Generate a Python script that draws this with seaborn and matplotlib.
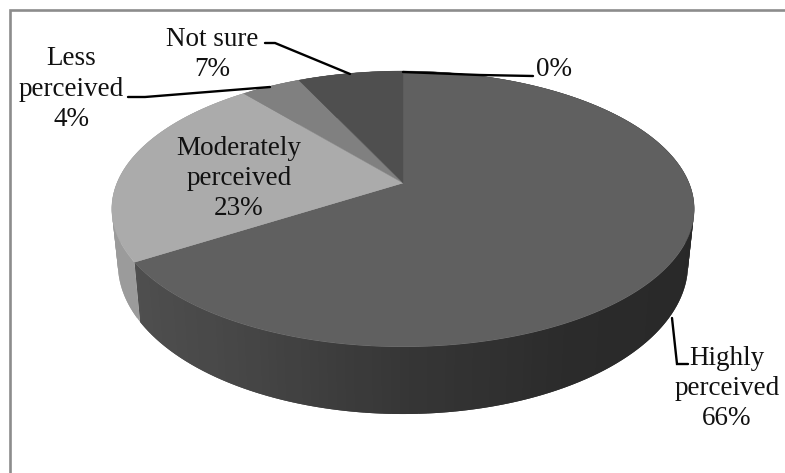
import numpy as np
import matplotlib
matplotlib.use("Agg")
import matplotlib.pyplot as plt
from matplotlib.patches import Polygon
import seaborn as sns

# Survey shares, in drawing order clockwise from twelve o'clock
categories = ["Highly\nperceived", "Moderately\nperceived", "Less\nperceived", "Not sure", ""]
shares = [66, 23, 4, 7, 0]
percent_labels = ["66%", "23%", "4%", "7%", "0%"]
top_colors = ["#606060", "#ababab", "#808080", "#4f4f4f", "#606060"]
side_colors = [["#525252", "#474747", "#363636", "#2b2b2b", "#282828"],
               ["#9c9c9c", "#9a9a9a"],
               ["#707070"], ["#404040"], ["#505050"]]

# Label placement: centre x and centre y of each text block
label_xy = [(727, 388.5), (239, 178.5), (71, 89), (212, 54.5), (554, 69)]
leaders = [[(672, 318), (677, 364), (688, 364)],
           None,
           [(128, 97), (145, 97), (270, 87)],
           [(265, 43), (275, 43), (350, 74)],
           [(403, 72), (480, 75), (533, 76)]]

sns.set_theme(style="white")
plt.rcParams["font.family"] = ["Liberation Serif", "DejaVu Serif"]

fig, ax = plt.subplots(figsize=(7.85, 4.73), dpi=100)
ax.set_position([0, 0, 1, 1])
ax.set_xlim(0, 785)
ax.set_ylim(473, 0)
ax.axis("off")

# Perspective disc: the far edge shrinks, so the hub sits above the ellipse centre
TILT = 0.188
CX = 403


def top_rim(angle):
    x, y = np.sin(angle), np.cos(angle)
    w = 1 + TILT * y
    return CX + 286 * x / w, 183 - 133 * y / w


def bottom_rim(angle):
    x, y = np.sin(angle), np.cos(angle)
    w = 1 + TILT * y
    return CX + 280 * x / w, 235.7 - 144.8 * y / w


edges = np.radians(np.cumsum([0] + shares) * 3.6)

# Outer wall first, the top face then hides whatever lies behind it
for i in range(len(shares)):
    a0, a1 = edges[i], edges[i + 1]
    if a1 <= a0:
        continue
    n = max(2, int(np.degrees(a1 - a0) / 1.5))
    steps = np.linspace(a0, a1, n + 1)
    ramp = sns.blend_palette(side_colors[i], 256) if len(side_colors[i]) > 1 else side_colors[i] * 256
    for k, (s0, s1) in enumerate(zip(steps[:-1], steps[1:])):
        mid = (s0 + s1) / 2
        # Wall darkens from left to right across the largest slice
        fraction = (1 + np.sin(mid)) / 2 if i == 0 else 0.5
        colour = ramp[int(fraction * 255)]
        # Each strip runs under its successor so no seams show between them
        s_far = steps[min(k + 2, n)]
        quad = [top_rim(a) for a in np.linspace(s0, s_far, 4)]
        quad += [bottom_rim(a) for a in np.linspace(s_far, s0, 4)]
        ax.add_patch(Polygon(quad, closed=True, fc=colour, ec="none", zorder=1 + i * 0.01))

# Top face wedges
for i in range(len(shares)):
    a0, a1 = edges[i], edges[i + 1]
    if a1 <= a0:
        continue
    arc = np.linspace(a0, a1, 200)
    pts = [(CX, 183)] + [top_rim(a) for a in arc]
    ax.add_patch(Polygon(pts, closed=True, fc=top_colors[i], ec=top_colors[i], lw=0.3, zorder=2))

# Leader lines and labels
for path in leaders:
    if path:
        xs, ys = zip(*path)
        ax.plot(xs, ys, color="black", lw=1.7, solid_joinstyle="miter", zorder=3)

for name, pct, (x, y) in zip(categories, percent_labels, label_xy):
    text = f"{name}\n{pct}" if name else pct
    ax.text(x, y, text, ha="center", va="center", fontsize=19.5,
            linespacing=1.27, color="#111111", zorder=4)

# Chart frame: only the top and left edges fall inside the canvas
ax.plot([9.5, 9.5, 785], [473, 10, 10], color="#8c8c8c", lw=1.9,
        solid_joinstyle="miter", zorder=0)

fig.savefig("out.png", dpi=100, facecolor="white")
